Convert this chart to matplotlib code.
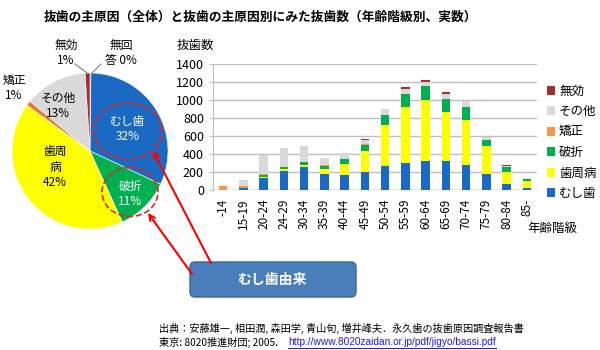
import matplotlib
matplotlib.use('Agg')
import matplotlib.pyplot as plt
import numpy as np
from matplotlib.patches import Ellipse, FancyBboxPatch

plt.rcParams['font.family'] = ['Noto Sans CJK JP', 'DejaVu Sans']

# --- pie: clockwise from 12 o'clock ---
pie_labels = ['無回答', 'むし歯', '破折', '歯周病', '矯正', 'その他', '無効']
pie_values = [0.2, 31.8, 11.2, 41.8, 1.0, 13.0, 1.0]
pie_colors = ['#7a2a2a', '#1a6ac4', '#00b050', '#ffff00', '#e8752a', '#d9d9d9', '#a0302e']

# --- stacked bars by age group ---
ages = ['-14', '15-19', '20-24', '24-29', '30-34', '35-39', '40-44', '45-49',
        '50-54', '55-59', '60-64', '65-69', '70-74', '75-79', '80-84', '85-']
caries = [5, 26, 133, 211, 252, 178, 170, 200, 267, 300, 326, 322, 278, 174, 70, 26]
perio = [0, 0, 15, 22, 26, 56, 115, 230, 459, 619, 678, 544, 504, 315, 133, 78]
fracture = [0, 0, 15, 18, 30, 37, 63, 74, 104, 148, 148, 148, 144, 70, 52, 22]
ortho = [40, 22, 15, 4, 4, 11, 0, 4, 0, 0, 0, 0, 0, 0, 0, 0]
other = [0, 63, 211, 207, 174, 70, 67, 48, 67, 56, 48, 56, 59, 30, 15, 4]
invalid = [0, 0, 0, 7, 4, 7, 0, 15, 7, 19, 19, 15, 0, 0, 4, 0]

series = [('むし歯', caries, '#1a6ac4'), ('歯周病', perio, '#ffff00'),
          ('破折', fracture, '#00b050'), ('矯正', ortho, '#f79646'),
          ('その他', other, '#d9d9d9'), ('無効', invalid, '#a0302e')]

fig = plt.figure(figsize=(6, 3.5), dpi=100)

# pie
axp = fig.add_axes([12 / 600, 1 - 229 / 350, 156 / 600, 156 / 350])
axp.pie(pie_values, colors=pie_colors, startangle=90, counterclock=False,
        wedgeprops=dict(linewidth=0.4, edgecolor='white'))
axp.set_xlim(-1, 1)
axp.set_ylim(-1, 1)
axp.set_aspect('equal')

# bars
ax = fig.add_axes([213 / 600, 1 - 190 / 350, 324 / 600, 126 / 350])
x = np.arange(len(ages))
bottom = np.zeros(len(ages))
handles = []
for name, vals, col in series:
    b = ax.bar(x, vals, 0.42, bottom=bottom, color=col, label=name, zorder=3)
    handles.append(b)
    bottom += np.array(vals)
ax.set_xlim(-0.5, len(ages) - 0.5)
ax.set_ylim(0, 1400)
ax.set_yticks(range(0, 1401, 200))
ax.yaxis.grid(True, color='#bfbfbf', linewidth=1, zorder=0)
for s in ['top', 'right', 'bottom']:
    ax.spines[s].set_visible(False)
ax.spines['left'].set_color('#bfbfbf')
ax.tick_params(axis='y', colors='#bfbfbf', labelcolor='black', labelsize=9, length=3)
ax.set_xticks(x)
ax.set_xticklabels(ages, rotation=90, fontsize=8.5)
ax.tick_params(axis='x', length=0, pad=6)
ax.axhline(0, color='#bfbfbf', linewidth=1, zorder=2)

fig.legend(handles[::-1], [s[0] for s in series][::-1], loc='upper left',
           bbox_to_anchor=(544 / 600, 1 - 82 / 350), frameon=False, fontsize=9,
           handlelength=0.7, handleheight=0.7, handletextpad=0.3, labelspacing=0.6,
           borderaxespad=0, borderpad=0.2)

# overlay for texts and annotations in pixel coordinates
ov = fig.add_axes([0, 0, 1, 1], zorder=10)
ov.set_xlim(0, 600)
ov.set_ylim(350, 0)
ov.axis('off')
ov.patch.set_alpha(0)

ov.text(260, 17, '抜歯の主原因（全体）と抜歯の主原因別にみた抜歯数（年齢階級別、実数）',
        ha='center', va='center', fontsize=9.2, fontweight='bold')
ov.text(195, 45, '抜歯数', ha='center', va='center', fontsize=9)
ov.text(552, 228, '年齢階級', ha='center', va='center', fontsize=9)

# pie labels
pl = [('無効\n1%', 66, 53, 'black'), ('無回\n答 0%', 121, 53, 'black'),
      ('矯正\n1%', 14, 88, 'black'), ('その他\n13%', 58, 106, 'black'),
      ('むし歯\n32%', 128, 129, 'white'), ('破折\n11%', 130, 194, 'white'),
      ('歯周\n病\n42%', 55, 167, 'black')]
for t, px, py, c in pl:
    ov.text(px, py, t, ha='center', va='center', fontsize=8.5, color=c,
            linespacing=1.25)
ov.plot([75, 87], [64, 73], color='#808080', lw=0.8)
ov.plot([101, 92], [64, 73], color='#808080', lw=0.8)

# dashed circles
ov.add_patch(Ellipse((128, 131), 68, 56, fill=False, ec='#e0242a', ls='--', lw=1.2))
ov.add_patch(Ellipse((130, 192), 56, 49, fill=False, ec='#e0242a', ls='--', lw=1.2))

# arrows
ov.annotate('', xy=(153, 151), xytext=(211, 263),
            arrowprops=dict(arrowstyle='->', color='#ff0000', lw=1.5, shrinkA=0, shrinkB=0))
ov.annotate('', xy=(148, 213), xytext=(192, 274),
            arrowprops=dict(arrowstyle='->', color='#ff0000', lw=1.5, shrinkA=0, shrinkB=0))

# callout box
ov.add_patch(FancyBboxPatch((190, 262), 166, 35, boxstyle='round,pad=0,rounding_size=5',
                            fc='#4a7ebb', ec='#3a659f', lw=1))
ov.text(273, 280, 'むし歯由来', ha='center', va='center', fontsize=10,
        fontweight='bold', color='white')

# source
ov.text(159, 328, '出典：安藤雄一, 相田潤, 森田学, 青山旬, 増井峰夫．永久歯の抜歯原因調査報告書',
        ha='left', va='center', fontsize=7.3)
ov.text(159, 342, '東京: 8020推進財団; 2005.', ha='left', va='center', fontsize=7.3)
url = ov.text(288, 342, 'http://www.8020zaidan.or.jp/pdf/jigyo/bassi.pdf', ha='left',
              va='center', fontsize=7.3, color='#1a1aee', family='Liberation Sans')
fig.canvas.draw()
bb = url.get_window_extent().transformed(ov.transData.inverted())
ov.plot([bb.x0, bb.x1], [bb.y0 + 0.5, bb.y0 + 0.5], color='#1a1aee', lw=0.7)

fig.savefig('out.png', dpi=100)
